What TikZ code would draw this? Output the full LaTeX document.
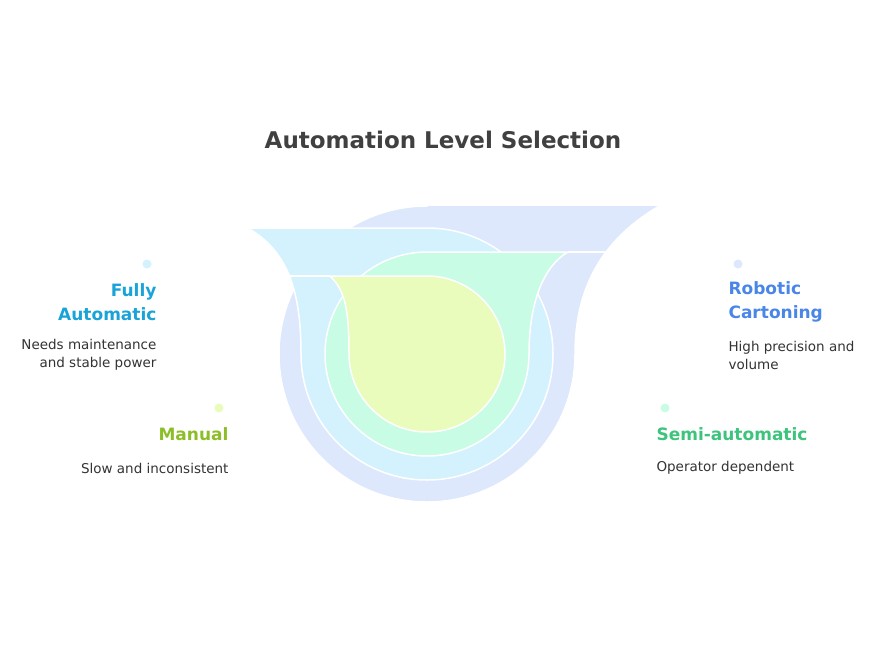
\documentclass[tikz,border=0pt]{standalone}
\usepackage{fontspec}
\setmainfont{DejaVu Sans}
\begin{document}
\begin{tikzpicture}[x=1pt,y=-1pt,
  sh/.style={draw=white,line width=1.5pt,line join=round},
  head/.style={font=\fontsize{17}{24}\selectfont\bfseries},
  desc/.style={font=\fontsize{13.5}{18}\selectfont,text=black!80},
  dot/.style={circle,inner sep=0pt,minimum size=9pt}]
\useasboundingbox (0,0) rectangle (886,664);
\definecolor{cB}{HTML}{DDE8FD}
\definecolor{cL}{HTML}{D3F2FD}
\definecolor{cG}{HTML}{C8FCE4}
\definecolor{cY}{HTML}{E9FCBB}
% blue
\path[sh,fill=cB] (427,205) -- (661,205) .. controls (600,240) and (575,290) .. (575,354)
  arc[start angle=0,end angle=270,radius=148] -- cycle;
% light blue
\path[sh,fill=cL] (248,228) -- (427,228) arc[start angle=270,end angle=540,radius=126]
  .. controls (301,285) and (285,250) .. (248,228) -- cycle;
\draw[sh] (285,276) -- (330,276);
% green
\path[sh,fill=cG] (427,252) -- (568,252) .. controls (545,265) and (529,300) .. (529,354)
  arc[start angle=0,end angle=270,radius=102] -- cycle;
\draw[sh] (568,252) -- (607,252);
% yellow
\path[sh,fill=cY] (330,276) -- (427,276) arc[start angle=270,end angle=540,radius=78]
  .. controls (349,310) and (345,290) .. (330,276) -- cycle;
\node[font=\fontsize{23}{26}\selectfont\bfseries,text=black!75] (title) at (443,140) {Automation Level Selection};
% left
\node[dot,fill=cL] (d1) at (147,264) {};
\node[head,text={rgb,255:red,26;green,163;blue,217},align=right,anchor=east] (h1) at (160,302) {Fully\\Automatic};
\node[desc,align=right,anchor=east] (t1) at (160,355) {Needs maintenance\\and stable power};
\node[dot,fill=cY] (d2) at (219,408) {};
\node[head,text={rgb,255:red,140;green,190;blue,40},anchor=east] (h2) at (232,434) {Manual};
\node[desc,anchor=east] (t2) at (232,468) {Slow and inconsistent};
% right
\node[dot,fill=cB] (d3) at (738,264) {};
\node[head,text={rgb,255:red,74;green,134;blue,232},align=left,anchor=west] (h3) at (725,302) {Robotic\\Cartoning};
\node[desc,align=left,anchor=west] (t3) at (725,355) {High precision and\\volume};
\node[dot,fill=cG] (d4) at (665,408) {};
\node[head,text={rgb,255:red,60;green,196;blue,124},anchor=west] (h4) at (653,434) {Semi-automatic};
\node[desc,anchor=west] (t4) at (653,468) {Operator dependent};
\end{tikzpicture}
\end{document}
